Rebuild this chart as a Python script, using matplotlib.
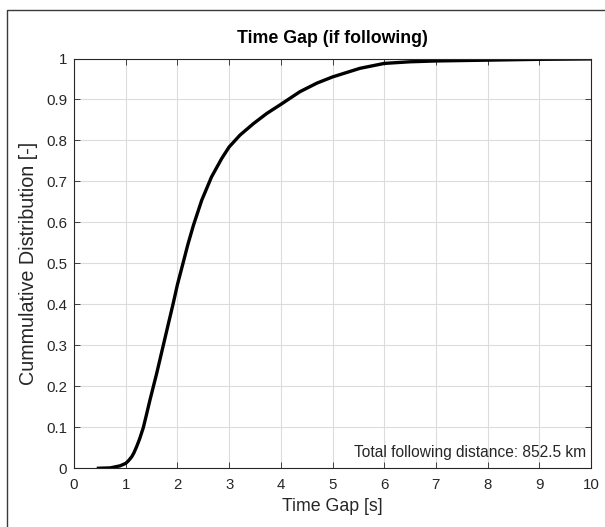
import matplotlib
matplotlib.use("Agg")
import matplotlib.pyplot as plt
from matplotlib import font_manager as fm
from matplotlib.lines import Line2D

# avoid the condensed "Narrow" face being picked for Liberation Sans
fm.fontManager.ttflist = [f for f in fm.fontManager.ttflist if 'Narrow' not in f.name
                          and 'Narrow' not in f.fname]
plt.rcParams['font.family'] = ['Liberation Sans', 'DejaVu Sans']

# CDF of time gap
time_gap = [0.44, 0.70, 0.89, 1.0, 1.05, 1.116, 1.16, 1.212, 1.27, 1.34, 1.40, 1.47, 1.60,
            1.727, 1.824, 1.92, 2.0, 2.114, 2.2, 2.31, 2.47, 2.66, 2.857, 3.0, 3.21, 3.47,
            3.73, 4.0, 4.37, 4.7, 5.0, 5.53, 6.0, 6.5, 7.0, 8.0, 9.0, 10.0]
cdf = [0.0, 0.001, 0.006, 0.012, 0.018, 0.028, 0.038, 0.053, 0.072, 0.099, 0.130, 0.167, 0.232,
       0.300, 0.352, 0.403, 0.448, 0.503, 0.545, 0.593, 0.654, 0.711, 0.756, 0.784, 0.813, 0.841,
       0.866, 0.888, 0.919, 0.940, 0.955, 0.976, 0.988, 0.992, 0.994, 0.996, 0.998, 0.999]

x_ticks = list(range(0, 11))
y_ticks = [round(0.1 * i, 1) for i in range(11)]
y_tick_labels = ['0', '0.1', '0.2', '0.3', '0.4', '0.5', '0.6', '0.7', '0.8', '0.9', '1']

title = 'Time Gap (if following)'
xlabel = 'Time Gap [s]'
ylabel = 'Cummulative Distribution [-]'
note = 'Total following distance: 852.5 km'

W, H = 605, 527
fig = plt.figure(figsize=(W / 100, H / 100), dpi=100)
ax = fig.add_axes([74 / W, 1 - 468.3 / H, (591 - 74) / W, (468.3 - 58.5) / H])

ax.plot(time_gap, cdf, color='black', linewidth=2.4, solid_capstyle='butt',
        solid_joinstyle='round')

ax.set_xlim(0, 10)
ax.set_ylim(0, 1)
ax.set_xticks(x_ticks)
ax.set_yticks(y_ticks)
ax.set_yticklabels(y_tick_labels)
ax.grid(True, color='#dcdcdc', linewidth=0.8)
ax.set_axisbelow(True)

axis_col = '#262626'
for s in ax.spines.values():
    s.set_color('#262626')
    s.set_linewidth(0.8)
ax.tick_params(direction='in', length=4, width=0.6, colors=axis_col, labelsize=10.8,
               top=True, right=True, pad=5)
ax.tick_params(axis='x', pad=7)

ax.set_title(title, fontsize=12.8, fontweight='bold', color='black', pad=11)
ax.set_xlabel(xlabel, fontsize=12.8, color=axis_col, labelpad=4)
ax.set_ylabel(ylabel, fontsize=14.2, color=axis_col, labelpad=6)

ax.text(0.99, 0.02, note, transform=ax.transAxes, ha='right', va='bottom',
        fontsize=11.2, color=axis_col)

# figure border (top and left visible)
fig.add_artist(Line2D([7 / W, 7 / W, 1.0], [0.0, 1 - 10 / H, 1 - 10 / H],
                      transform=fig.transFigure, color='#3a3a3a', linewidth=1.0))

fig.savefig('out.png', dpi=100)
